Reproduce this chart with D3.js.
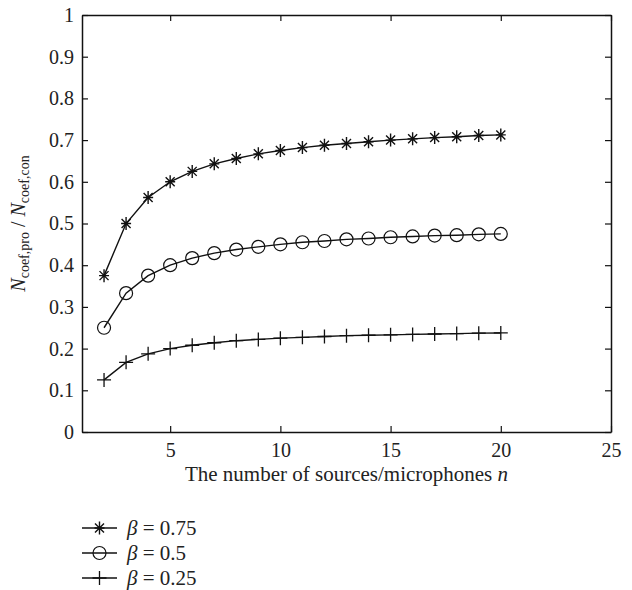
<!DOCTYPE html>
<html>
<head>
<meta charset="utf-8">
<script src="https://cdn.jsdelivr.net/npm/d3@7"></script>
<style>
  body { margin: 0; background: #fff; }
</style>
</head>
<body>
<div id="chart"></div>
<script>
// ratio of coefficient counts vs number of sources/microphones

const nValues = [2, 3, 4, 5, 6, 7, 8, 9, 10, 11, 12, 13, 14, 15, 16, 17, 18, 19, 20];
const beta075 = [0.375, 0.5, 0.5625, 0.6, 0.625, 0.643, 0.656, 0.667, 0.675, 0.682, 0.6875, 0.692, 0.696, 0.7, 0.703, 0.706, 0.708, 0.711, 0.7125];
const beta05 = [0.25, 0.333, 0.375, 0.4, 0.417, 0.429, 0.4375, 0.444, 0.45, 0.455, 0.458, 0.462, 0.464, 0.467, 0.469, 0.471, 0.472, 0.474, 0.475];
const beta025 = [0.125, 0.167, 0.1875, 0.2, 0.208, 0.214, 0.219, 0.222, 0.225, 0.227, 0.229, 0.231, 0.232, 0.233, 0.234, 0.235, 0.236, 0.237, 0.2375];
const seriesNames = ["0.75", "0.5", "0.25"];
const seriesMarkers = ["star", "circle", "plus"];

const xTicks = [5, 10, 15, 20, 25];
const yTicks = [0, 0.1, 0.2, 0.3, 0.4, 0.5, 0.6, 0.7, 0.8, 0.9, 1];

const FONT = "'Liberation Serif', 'Times New Roman', 'DejaVu Serif', serif";

function createChart() {
    const width = 632, height = 590;
    const margin = { top: 15, right: 21, bottom: 158, left: 82 };
    const w = width - margin.left - margin.right;
    const h = height - margin.top - margin.bottom;

    const svg = d3.select("#chart").append("svg")
        .attr("width", width)
        .attr("height", height)
        .style("font-family", FONT);

    const g = svg.append("g")
        .attr("transform", `translate(${margin.left},${margin.top})`);

    const x = d3.scaleLinear().domain([1, 25]).range([0, w]);
    const y = d3.scaleLinear().domain([0, 1]).range([h, 0]);

    // axes, ticks pointing inward
    const fmtY = d => d === 0 ? "0" : d === 1 ? "1" : d3.format(".1f")(d);

    const xAxis = g.append("g")
        .attr("transform", `translate(0,${h})`)
        .call(d3.axisBottom(x).tickValues(xTicks).tickSizeInner(-6).tickSizeOuter(0).tickPadding(11));
    const yAxis = g.append("g")
        .call(d3.axisLeft(y).tickValues(yTicks).tickFormat(fmtY).tickSizeInner(-6).tickSizeOuter(0).tickPadding(8));
    const xTop = g.append("g")
        .call(d3.axisTop(x).tickValues(xTicks).tickSizeInner(-6).tickSizeOuter(0).tickFormat(""));
    const yRight = g.append("g")
        .attr("transform", `translate(${w},0)`)
        .call(d3.axisRight(y).tickValues(yTicks).tickSizeInner(-6).tickSizeOuter(0).tickFormat(""));

    [xAxis, yAxis, xTop, yRight].forEach(a => {
        a.attr("font-family", FONT);
        a.select(".domain").attr("stroke", "#111").attr("stroke-width", 1.5);
        a.selectAll(".tick line").attr("stroke", "#111").attr("stroke-width", 1.2);
        a.selectAll("text").style("font-family", FONT).style("font-size", "20px").attr("fill", "#222");
    });

    // axis titles
    const xt = svg.append("text")
        .attr("x", margin.left + w / 2)
        .attr("y", 481)
        .attr("text-anchor", "middle")
        .style("font-family", FONT)
        .style("font-size", "21px")
        .attr("fill", "#222");
    xt.append("tspan").text("The number of sources/microphones ");
    xt.append("tspan").attr("font-style", "italic").text("n");

    const yt = svg.append("text")
        .attr("transform", `translate(25,${margin.top + h / 2}) rotate(-90)`)
        .attr("text-anchor", "middle")
        .style("font-family", FONT)
        .style("font-size", "20px")
        .attr("fill", "#222");
    yt.append("tspan").attr("font-style", "italic").text("N");
    yt.append("tspan").attr("dy", 4).style("font-size", "14px").text("coef,pro");
    yt.append("tspan").attr("dy", -4).text(" / ");
    yt.append("tspan").attr("font-style", "italic").text("N");
    yt.append("tspan").attr("dy", 4).style("font-size", "14px").text("coef,con");

    // markers
    function drawMarker(sel, type) {
        if (type === "circle") {
            sel.append("circle").attr("r", 6.5).attr("fill", "none").attr("stroke", "#111").attr("stroke-width", 1.2);
        } else if (type === "plus") {
            sel.append("path").attr("d", "M-7,0H7M0,-7V7").attr("stroke", "#111").attr("stroke-width", 1.3);
        } else {
            sel.append("path").attr("d", "M-5,0H5M0,-6.5V6.5M-4.5,-4.5L4.5,4.5M-4.5,4.5L4.5,-4.5").attr("stroke", "#111").attr("stroke-width", 1.4);
        }
    }

    const allSeries = [beta075, beta05, beta025];
    const line = d3.line().x(d => x(d[0])).y(d => y(d[1]));

    allSeries.forEach((vals, i) => {
        const pts = nValues.map((n, j) => [n, vals[j]]);
        g.append("path")
            .datum(pts)
            .attr("d", line)
            .attr("fill", "none")
            .attr("stroke", "#111")
            .attr("stroke-width", 1.4);
        g.selectAll(".m" + i)
            .data(pts)
            .enter().append("g")
            .attr("class", "m" + i)
            .attr("transform", d => `translate(${x(d[0])},${y(d[1])})`)
            .each(function () { drawMarker(d3.select(this), seriesMarkers[i]); });
    });

    // legend
    const legend = svg.append("g").attr("transform", "translate(82,528)");
    seriesNames.forEach((name, i) => {
        const row = legend.append("g").attr("transform", `translate(0,${i * 25})`);
        row.append("line").attr("x1", 0).attr("x2", 35).attr("y1", 0).attr("y2", 0)
            .attr("stroke", "#111").attr("stroke-width", 1.4);
        const m = row.append("g").attr("transform", "translate(17.5,0)");
        drawMarker(m, seriesMarkers[i]);
        const t = row.append("text").attr("x", 45).attr("y", 7)
            .style("font-family", FONT).style("font-size", "21px").attr("fill", "#222");
        t.append("tspan").attr("font-style", "italic").text("β");
        t.append("tspan").text(" = " + name);
    });
}

document.addEventListener("DOMContentLoaded", createChart);
</script>
</body>
</html>
